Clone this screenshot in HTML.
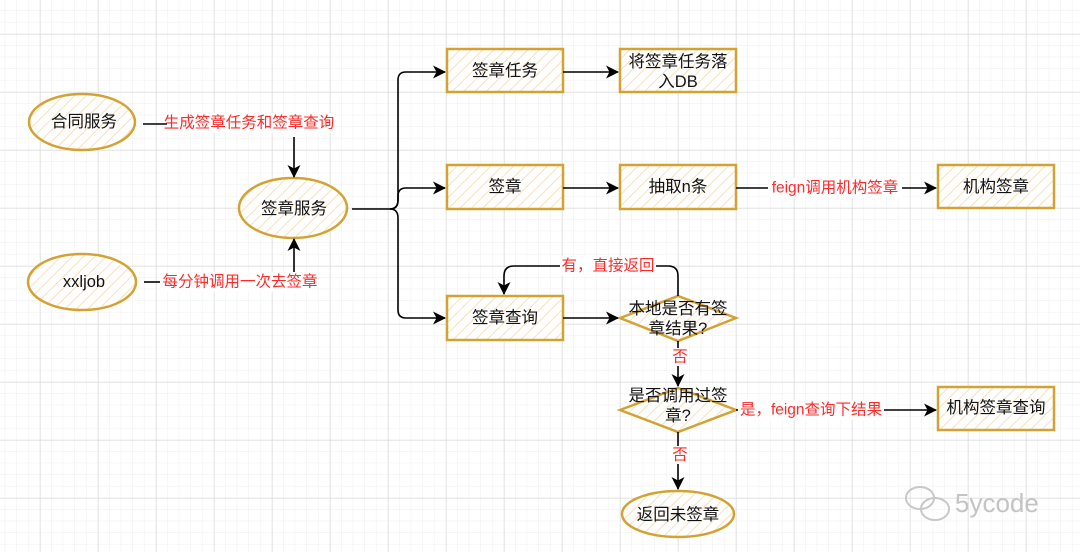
<!DOCTYPE html>
<html><head><meta charset="utf-8"><style>
html,body{margin:0;padding:0;background:#fff;}
svg{display:block;}
text{font-family:"Liberation Sans","Noto Sans CJK SC",sans-serif;}
</style></head><body>
<svg width="1080" height="552" viewBox="0 0 1080 552" xmlns="http://www.w3.org/2000/svg">
<defs>
<pattern id="minor" x="40" y="34" width="11.6" height="11.6" patternUnits="userSpaceOnUse">
<path d="M11.6 0V11.6M0 11.6H11.6" stroke="#eeeeee" stroke-width="1" fill="none"/>
</pattern>
<pattern id="major" x="40" y="34" width="58" height="58" patternUnits="userSpaceOnUse">
<path d="M0 0V58M0 0H58" stroke="#d6d6d6" stroke-width="1" fill="none"/>
</pattern>
<pattern id="hatch" width="8" height="8" patternUnits="userSpaceOnUse" patternTransform="rotate(45)">
<rect width="8" height="8" fill="#fff"/>
<line x1="0" y1="0" x2="0" y2="8" stroke="#f8e0bd" stroke-width="2"/>
</pattern>
<marker id="ar" markerWidth="13" markerHeight="13" refX="12" refY="6.5" orient="auto" markerUnits="userSpaceOnUse">
<path d="M0 0L13 6.5L0 13L3.5 6.5Z" fill="#000"/>
</marker>
</defs>
<rect width="1080" height="552" fill="#fff"/>
<rect width="1080" height="552" fill="url(#minor)"/>
<rect width="1080" height="552" fill="url(#major)"/>

<g fill="url(#hatch)" stroke="#d4a233" stroke-width="2.5">
<ellipse cx="82" cy="122" rx="53" ry="28"/>
<ellipse cx="82" cy="282" rx="54" ry="28"/>
<ellipse cx="293" cy="208" rx="54" ry="30"/>
<rect x="447" y="49" width="116" height="43"/>
<rect x="447" y="165" width="116" height="44"/>
<rect x="447" y="296" width="116" height="44"/>
<rect x="620" y="49" width="116" height="43"/>
<rect x="620" y="165" width="116" height="44"/>
<rect x="938" y="165" width="116" height="43"/>
<rect x="938" y="387" width="116" height="43"/>
<path d="M620 318L678 296L736 318L678 341Z"/>
<path d="M620 410L678 388L736 410L678 432Z"/>
<ellipse cx="678" cy="514" rx="56" ry="23"/>
</g>

<g stroke="#000" stroke-width="1.6" fill="none">
<line x1="143" y1="124" x2="167" y2="124"/>
<line x1="294" y1="137" x2="294" y2="177" marker-end="url(#ar)"/>
<line x1="144" y1="282" x2="160" y2="282"/>
<line x1="294" y1="272" x2="294" y2="239" marker-end="url(#ar)"/>
<path d="M352 209H390Q398 209 398 200V80Q398 72 406 72H445" marker-end="url(#ar)"/>
<path d="M390 209Q398 209 398 200V196Q398 188 406 188H445" marker-end="url(#ar)"/>
<path d="M390 209Q398 209 398 218V310Q398 318 406 318H445" marker-end="url(#ar)"/>
<line x1="563" y1="72" x2="618" y2="72" marker-end="url(#ar)"/>
<line x1="563" y1="188" x2="618" y2="188" marker-end="url(#ar)"/>
<line x1="736" y1="188" x2="936" y2="188" marker-end="url(#ar)"/>
<line x1="563" y1="318" x2="618" y2="318" marker-end="url(#ar)"/>
<path d="M678 296V276Q678 266 668 266H514Q504 266 504 276V294" marker-end="url(#ar)"/>
<line x1="678" y1="341" x2="678" y2="386" marker-end="url(#ar)"/>
<line x1="736" y1="410" x2="936" y2="410" marker-end="url(#ar)"/>
<line x1="678" y1="432" x2="678" y2="489" marker-end="url(#ar)"/>
</g>

<g font-size="16.5" fill="#111" text-anchor="middle" dominant-baseline="central">
<text x="84" y="122">合同服务</text>
<text x="84" y="282">xxljob</text>
<text x="294" y="209">签章服务</text>
<text x="505" y="71">签章任务</text>
<text x="505" y="187">签章</text>
<text x="505" y="318">签章查询</text>
<text x="678" y="62">将签章任务落</text>
<text x="678" y="82">入DB</text>
<text x="678" y="187">抽取n条</text>
<text x="996" y="187">机构签章</text>
<text x="996" y="408">机构签章查询</text>
<text x="678" y="309">本地是否有签</text>
<text x="678" y="329">章结果?</text>
<text x="678" y="396">是否调用过签</text>
<text x="678" y="416">章?</text>
<text x="678" y="515">返回未签章</text>
</g>
<g font-size="15.5" fill="#ff2a2a" text-anchor="middle" dominant-baseline="central">
<rect x="167" y="113" width="164" height="20" fill="#fff"/>
<text x="249" y="123">生成签章任务和签章查询</text>
<rect x="160" y="272" width="148" height="20" fill="#fff"/>
<text x="240" y="282">每分钟调用一次去签章</text>
<rect x="768" y="178" width="134" height="20" fill="#fff"/>
<text x="835" y="188">feign调用机构签章</text>
<rect x="560" y="256" width="96" height="20" fill="#fff"/>
<text x="608" y="266">有，直接返回</text>
<rect x="671" y="348" width="16" height="18" fill="#fff"/>
<text x="680" y="357">否</text>
<rect x="671" y="446" width="16" height="18" fill="#fff"/>
<text x="680" y="455">否</text>
<rect x="738" y="400" width="146" height="20" fill="#fff"/>
<text x="811" y="410">是，feign查询下结果</text>
</g>
<g fill="none" stroke="#c8c8c8" stroke-width="2">
<ellipse cx="920" cy="498" rx="14" ry="11"/>
<ellipse cx="935" cy="509" rx="14" ry="11"/>
</g>
<text x="955" y="512" font-size="26" fill="#c4c4c4">5ycode</text>
</svg>
</body></html>
